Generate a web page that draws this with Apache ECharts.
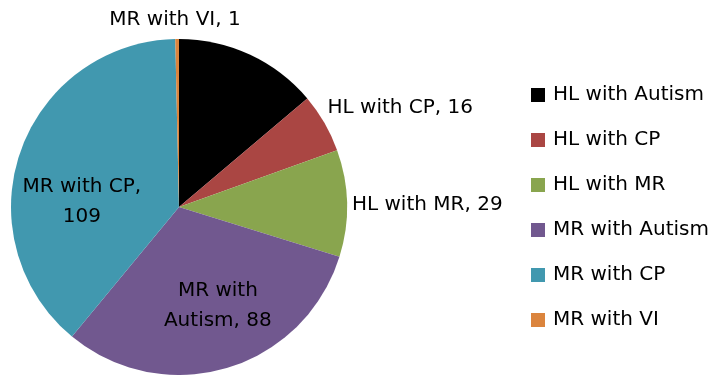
<!DOCTYPE html>
<html>
<head>
<meta charset="utf-8">
<script src="https://cdn.jsdelivr.net/npm/echarts@6/dist/echarts.min.js"></script>
<style>
  html, body { margin: 0; padding: 0; background: #fff; }
  #chart { width: 719px; height: 375px; }
</style>
</head>
<body>
<div id="chart"></div>
<script>
// Dual-disability groups and their counts
const categories = ['HL with Autism', 'HL with CP', 'HL with MR', 'MR with Autism', 'MR with CP', 'MR with VI'];
const counts = [39, 16, 29, 88, 109, 1];
const colors = ['#000000', '#AA4643', '#89A54E', '#71588F', '#4198AF', '#DB843D'];

// Label text per slice (inside labels wrap onto two lines)
const labelText = [
  'HL with Autism, 39',
  'HL with CP, 16',
  'HL with MR, 29',
  'MR with\nAutism, 88',
  'MR with CP,\n109',
  'MR with VI, 1'
];
const labelInside = [true, false, false, true, true, false];
// Black text on the black slice stays unseen, so it is left off
const labelShown = [false, true, true, true, true, true];
// Small nudges so labels sit where they read best
const labelShift = [[0, 0], [-2, -15], [0, 2], [14, 15], [-15, 23], [0, 0]];

const FONT = '"DejaVu Sans", sans-serif';

const data = categories.map((name, i) => ({
  name: name,
  value: counts[i],
  itemStyle: { color: colors[i] },
  label: {
    show: labelShown[i],
    position: labelInside[i] ? 'inside' : 'outside',
    formatter: labelText[i],
    color: '#000'
  }
}));

const chart = echarts.init(document.getElementById('chart'), null, { renderer: 'canvas' });
chart.setOption({
  animation: false,
  backgroundColor: '#ffffff',
  legend: {
    orient: 'vertical',
    left: 531,
    top: 85,
    padding: 0,
    itemWidth: 14,
    itemHeight: 14,
    itemGap: 25,
    itemStyle: { borderWidth: 0 },
    icon: 'rect',
    data: categories,
    textStyle: { fontFamily: FONT, fontSize: 20, color: '#000', lineHeight: 20, padding: [0, 0, 0, 3] }
  },
  series: [{
    type: 'pie',
    center: [179, 207],
    radius: [0, 168],
    startAngle: 90,
    clockwise: true,
    avoidLabelOverlap: false,
    data: data,
    label: {
      fontFamily: FONT,
      fontSize: 20,
      lineHeight: 30,
      color: '#000'
    },
    labelLine: { show: false, length: 0, length2: 0 },
    emphasis: { disabled: true },
    labelLayout: function (p) {
      const s = labelShift[p.dataIndex];
      if (p.dataIndex === 5) {
        return { x: 175, y: 20, align: 'center', verticalAlign: 'middle' };
      }
      return { dx: s[0], dy: s[1] };
    }
  }]
});
</script>
</body>
</html>
